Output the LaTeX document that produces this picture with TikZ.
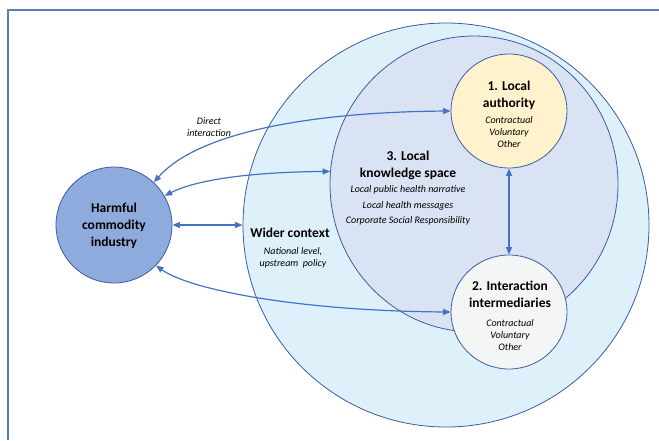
\documentclass[tikz,border=0pt]{standalone}
\usepackage{fontspec}
\setmainfont{Carlito}
\usetikzlibrary{shapes.geometric,arrows.meta}
\definecolor{framec}{HTML}{5B7DB8}
\definecolor{edgec}{HTML}{3A5DA5}
\definecolor{arrc}{HTML}{4472C4}
\definecolor{widerc}{HTML}{DEF0FA}
\definecolor{ksc}{HTML}{DAE3F3}
\definecolor{lac}{HTML}{FFF2CC}
\definecolor{imc}{HTML}{F4F6F6}
\definecolor{indc}{HTML}{8FAADC}
\tikzset{
  blob/.style={ellipse, draw=edgec, line width=0.8pt, inner sep=0pt},
  ttl/.style={align=center, font=\fontsize{13.5}{17}\selectfont\bfseries, inner sep=0pt},
  sub/.style={align=center, font=\fontsize{10}{12}\selectfont\itshape, inner sep=0pt},
  subw/.style={align=center, font=\fontsize{10}{15.5}\selectfont\itshape, inner sep=0pt},
  arr/.style={draw=arrc, line width=1.2pt, {Triangle[length=7.5pt,width=6pt]}-{Triangle[length=7.5pt,width=6pt]}}
}
\begin{document}
\begin{tikzpicture}[x=1pt,y=-1pt]
\useasboundingbox (0,0) rectangle (659,440);
\fill[white] (0,0) rectangle (659,440);
\draw[framec, line width=1.4pt] (8,440) -- (8,10) -- (659,10);
% circles
\node[blob, fill=widerc, minimum width=406pt, minimum height=404pt] (wc) at (446,225) {};
\node[blob, fill=ksc, minimum width=288pt, minimum height=296pt] (ks) at (474,184) {};
\node[blob, fill=lac, minimum width=116pt, minimum height=114pt] (la) at (509,111) {};
\node[blob, fill=imc, minimum width=116pt, minimum height=114pt] (im) at (509,312) {};
\node[blob, fill=indc, minimum width=116pt, minimum height=116pt] (ind) at (114,225) {};
% texts
\node[ttl] (indt) at (114,226) {Harmful\\commodity\\industry};
\node[ttl] (wct) at (290,233) {Wider context};
\node[sub] (wcs) at (293,258) {National level,\\upstream\ \ policy};
\node[ttl] (kst) at (408,165.5) {3. Local\\knowledge space};
\node[subw] (kss) at (408,205.5) {Local public health narrative\\Local health messages\\Corporate Social Responsibility};
\node[ttl] (lat) at (509,95.5) {1. Local\\authority};
\node[sub] (las) at (509,132) {Contractual\\Voluntary\\Other};
\node[ttl] (imt) at (510,294.5) {2. Interaction\\intermediaries};
\node[sub] (ims) at (510,335) {Contractual\\Voluntary\\Other};
\node[sub] (dit) at (209,127) {Direct\\interaction};
% arrows
\draw[arr] (ind.47) .. controls (200,130) and (320,112) .. (la.west);
\draw[arr] (ind.30) .. controls (200,178) and (260,172) .. (ks.175);
\draw[arr] (ind.east) -- (wc.west);
\draw[arr] (ind.-44) .. controls (190,290) and (300,311) .. (im.west);
\draw[arr] (la.south) -- (im.north);
\end{tikzpicture}
\end{document}
